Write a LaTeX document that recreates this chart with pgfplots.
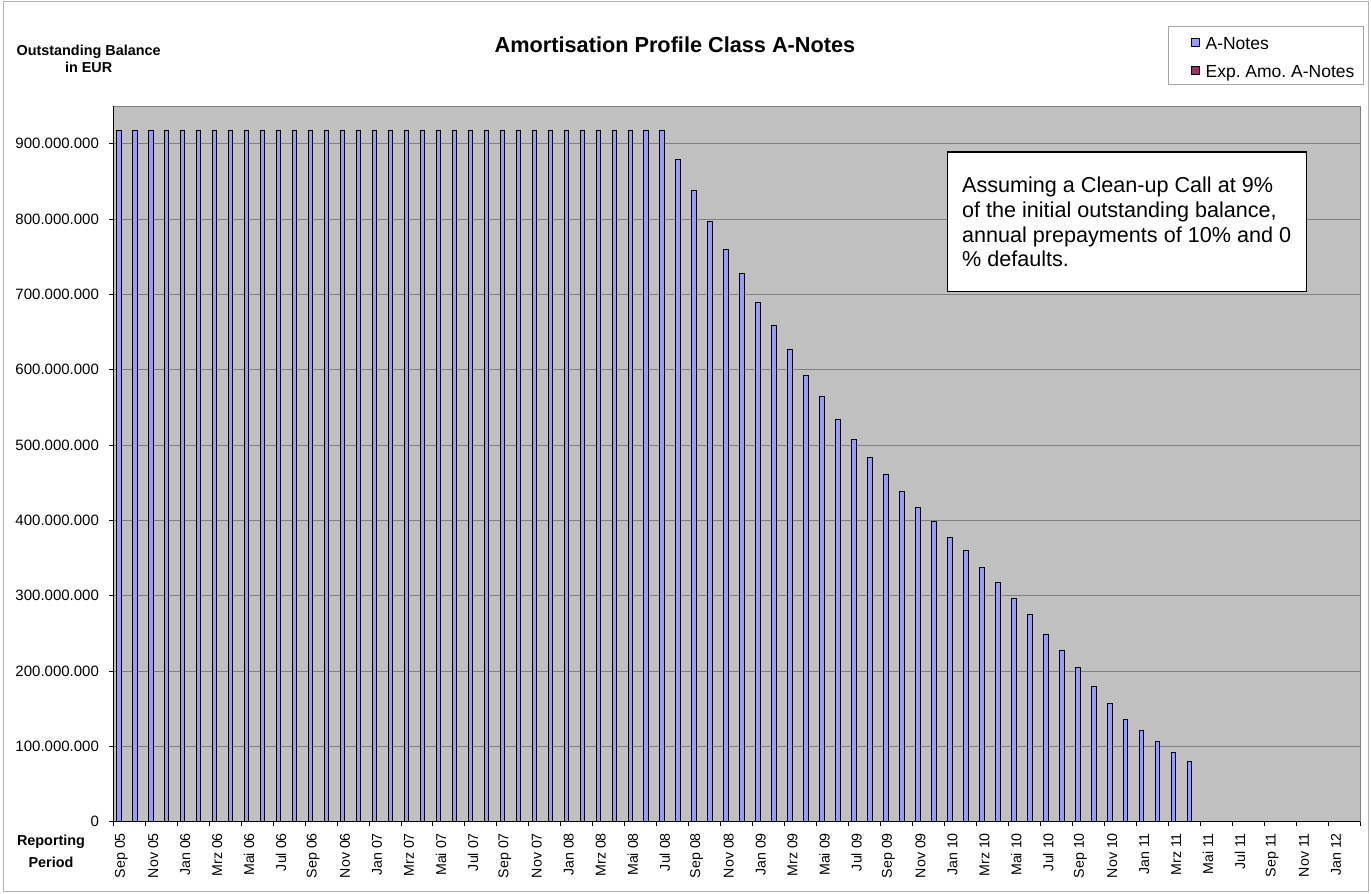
\documentclass[border=0pt]{standalone}
\usepackage{fontspec}
\setmainfont{Liberation Sans}
\usepackage{pgfplots}
\pgfplotsset{compat=1.18}
\definecolor{barblue}{HTML}{9999FF}
\definecolor{plotbg}{HTML}{C0C0C0}
\definecolor{gridgray}{HTML}{808080}
\definecolor{expcol}{HTML}{993366}
\pgfplotsset{sqlegend/.style={legend image code/.code={%
  \path (0pt,0pt);
  \draw[##1] (6.75pt,-2.55pt) rectangle (10.75pt,1.45pt);}}}
\frenchspacing
\begin{document}
\begin{tikzpicture}
\useasboundingbox (0,0) rectangle (685.5pt,-447pt);
\draw[gray!60, line width=0.5pt] (1.65pt,-0.85pt) rectangle (684.2pt,-445.5pt);
\begin{axis}[
  at={(56.65pt,-410.85pt)}, anchor=south west,
  scale only axis, width=623.35pt, height=357.85pt,
  xmin=-0.5, xmax=77.5, ymin=0, ymax=950,
  axis background/.style={fill=plotbg, draw=gridgray, line width=0.5pt},
  axis x line*=bottom, axis y line*=left,
  axis line style={black, line width=0.5pt, -},
  ymajorgrids, major grid style={gridgray, line width=0.5pt},
  ytick={0,100,200,300,400,500,600,700,800,900},
  yticklabels={0,100.000.000,200.000.000,300.000.000,400.000.000,500.000.000,600.000.000,700.000.000,800.000.000,900.000.000},
  xtick={0,2,...,76},
  xticklabels={Sep 05,Nov 05,Jan 06,Mrz 06,Mai 06,Jul 06,Sep 06,Nov 06,Jan 07,Mrz 07,Mai 07,Jul 07,Sep 07,Nov 07,Jan 08,Mrz 08,Mai 08,Jul 08,Sep 08,Nov 08,Jan 09,Mrz 09,Mai 09,Jul 09,Sep 09,Nov 09,Jan 10,Mrz 10,Mai 10,Jul 10,Sep 10,Nov 10,Jan 11,Mrz 11,Mai 11,Jul 11,Sep 11,Nov 11,Jan 12},
  minor xtick={-0.5,1.5,...,77.5},
  tick align=outside,
  major tick length=2pt, minor tick length=2pt,
  major x tick style={draw=none},
  minor x tick style={black, line width=0.5pt},
  major y tick style={black, line width=0.5pt},
  yticklabel shift=5pt,
  xticklabel style={yshift=-3.5pt, rotate=90, anchor=east, inner sep=0pt, font=\fontsize{7.1pt}{8pt}\selectfont},
  yticklabel style={anchor=east, inner sep=0pt, font=\fontsize{7.5pt}{9pt}\selectfont},
  legend style={at={(0.846,1.1118)}, anchor=north west, draw=gray!70, line width=0.5pt, fill=white,
    font=\fontsize{8.75pt}{10pt}\selectfont, inner xsep=4.6pt, inner ysep=1.65pt, row sep=2.6pt,
    nodes={inner sep=0pt, text height=9.65pt, text depth=1.9pt},
    /tikz/every odd column/.append style={column sep=2.6pt}},
  legend cell align=left,
]
\addplot[ybar, bar width=2.25pt, bar shift=-1.25pt, fill=barblue, draw=black, line width=0.5pt, sqlegend] coordinates {
(0,917.6) (1,917.6) (2,917.6) (3,917.6) (4,917.6) (5,917.6) (6,917.6) (7,917.6) (8,917.6) (9,917.6)
(10,917.6) (11,917.6) (12,917.6) (13,917.6) (14,917.6) (15,917.6) (16,917.6) (17,917.6) (18,917.6) (19,917.6)
(20,917.6) (21,917.6) (22,917.6) (23,917.6) (24,917.6) (25,917.6) (26,917.6) (27,917.6) (28,917.6) (29,917.6)
(30,917.6) (31,917.6) (32,917.6) (33,917.6) (34,917.6)
(35,878.7) (36,838.0) (37,796.5) (38,760.2) (39,727.9) (40,689.0) (41,658.9) (42,626.2) (43,592.6) (44,563.8)
(45,533.8) (46,506.8) (47,483.8) (48,460.9) (49,438.0) (50,416.6) (51,398.5) (52,377.7) (53,359.5) (54,337.9)
(55,317.1) (56,295.8) (57,274.6) (58,248.6) (59,226.9) (60,204.3) (61,180.0) (62,156.5) (63,135.8) (64,120.7)
(65,107.1) (66,92.5) (67,79.6)
};
\addlegendentry{A-Notes}
\addlegendimage{fill=expcol, draw=black, line width=0.6pt, sqlegend}
\addlegendentry{Exp. Amo. A-Notes}
\end{axis}
\node[font=\bfseries\fontsize{10.85pt}{13pt}\selectfont] at (337.5pt,-22.5pt) {Amortisation Profile Class A-Notes};
\node[align=center, font=\bfseries\fontsize{7.2pt}{8.5pt}\selectfont] at (44.3pt,-29.3pt) {Outstanding Balance\\in EUR};
\node[align=center, font=\bfseries\fontsize{7.2pt}{11pt}\selectfont] at (25.5pt,-425.7pt) {Reporting\\Period};
\draw[black, fill=white, line width=0.6pt] (473.65pt,-76pt) rectangle (653.35pt,-145.85pt);
\begin{scope}[every node/.style={anchor=base west, inner sep=0pt, font=\fontsize{10.8pt}{12.35pt}\selectfont}]
\node at (480.85pt,-96.4pt) {Assuming a Clean-up Call at 9\%};
\node at (480.85pt,-108.75pt) {of the initial outstanding balance,};
\node at (480.85pt,-121.1pt) {annual prepayments of 10\% and 0};
\node at (480.85pt,-133.45pt) {\% defaults.};
\end{scope}
\end{tikzpicture}
\end{document}
